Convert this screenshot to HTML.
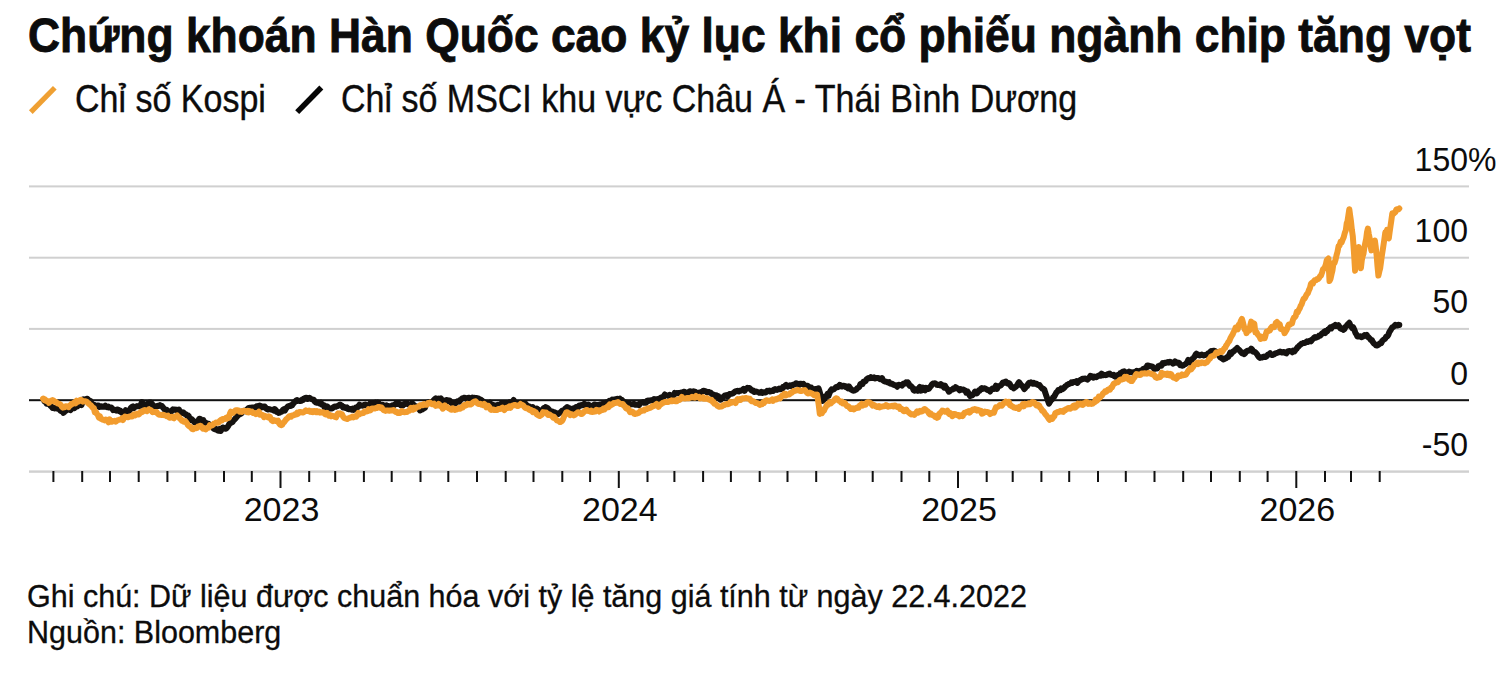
<!DOCTYPE html>
<html><head><meta charset="utf-8">
<style>
html,body{margin:0;padding:0;background:#fff;}
body{width:1512px;height:688px;position:relative;overflow:hidden;font-family:"Liberation Sans",sans-serif;color:#0c0c0c;}
.t{position:absolute;white-space:nowrap;line-height:1;transform-origin:0 0.8465em;}
#title{left:28px;top:15.3px;font-size:44.4px;font-weight:700;transform:scale(1.0,1.075);-webkit-text-stroke:0.8px #0c0c0c;}
.leg{top:82.8px;font-size:34px;transform:scaleY(1.12);-webkit-text-stroke:0.35px #0c0c0c;}
.yl{position:absolute;left:1268px;width:200px;font-size:32px;line-height:1;text-align:right;white-space:nowrap;transform-origin:0 0.8465em;transform:scaleY(1.04);}
.yl span{position:absolute;left:100%;top:0;}
.yr{position:absolute;top:492.2px;width:120px;text-align:center;font-size:34px;line-height:1;}
.fn{left:27px;font-size:30.5px;transform:scaleY(1.05);-webkit-text-stroke:0.3px #0c0c0c;}
svg{position:absolute;left:0;top:0;}
</style></head><body>
<div id="title" class="t">Chứng khoán Hàn Quốc cao kỷ lục khi cổ phiếu ngành chip tăng vọt</div>
<svg width="1512" height="688" viewBox="0 0 1512 688">
<line x1="30.8" y1="112.1" x2="54.8" y2="87.7" stroke="#EFA033" stroke-width="5.2"/>
<line x1="297.2" y1="112.1" x2="321.3" y2="87.5" stroke="#060606" stroke-width="5.6"/>
<rect x="29" y="185.4" width="1440" height="2" fill="#d0d0d0"/>
<rect x="29" y="256.7" width="1440" height="2" fill="#d0d0d0"/>
<rect x="29" y="327.9" width="1440" height="2" fill="#d0d0d0"/>
<rect x="29" y="470.4" width="1440" height="2.4" fill="#d0d0d0"/>

<rect x="29" y="399.2" width="1440" height="2" fill="#111"/>
<rect x="52.4" y="471" width="2" height="11" fill="#111"/>
<rect x="81.2" y="471" width="2" height="11" fill="#111"/>
<rect x="109.0" y="471" width="2" height="11" fill="#111"/>
<rect x="137.7" y="471" width="2" height="11" fill="#111"/>
<rect x="166.4" y="471" width="2" height="11" fill="#111"/>
<rect x="194.2" y="471" width="2" height="11" fill="#111"/>
<rect x="223.0" y="471" width="2" height="11" fill="#111"/>
<rect x="250.8" y="471" width="2" height="11" fill="#111"/>
<rect x="279.5" y="471" width="2" height="17" fill="#111"/>
<rect x="308.2" y="471" width="2" height="11" fill="#111"/>
<rect x="334.2" y="471" width="2" height="11" fill="#111"/>
<rect x="362.9" y="471" width="2" height="11" fill="#111"/>
<rect x="390.7" y="471" width="2" height="11" fill="#111"/>
<rect x="419.5" y="471" width="2" height="11" fill="#111"/>
<rect x="447.3" y="471" width="2" height="11" fill="#111"/>
<rect x="476.0" y="471" width="2" height="11" fill="#111"/>
<rect x="504.7" y="471" width="2" height="11" fill="#111"/>
<rect x="532.5" y="471" width="2" height="11" fill="#111"/>
<rect x="561.3" y="471" width="2" height="11" fill="#111"/>
<rect x="589.1" y="471" width="2" height="11" fill="#111"/>
<rect x="617.8" y="471" width="2" height="17" fill="#111"/>
<rect x="646.5" y="471" width="2" height="11" fill="#111"/>
<rect x="673.4" y="471" width="2" height="11" fill="#111"/>
<rect x="702.1" y="471" width="2" height="11" fill="#111"/>
<rect x="729.9" y="471" width="2" height="11" fill="#111"/>
<rect x="758.7" y="471" width="2" height="11" fill="#111"/>
<rect x="786.5" y="471" width="2" height="11" fill="#111"/>
<rect x="815.2" y="471" width="2" height="11" fill="#111"/>
<rect x="843.9" y="471" width="2" height="11" fill="#111"/>
<rect x="871.7" y="471" width="2" height="11" fill="#111"/>
<rect x="900.5" y="471" width="2" height="11" fill="#111"/>
<rect x="928.3" y="471" width="2" height="11" fill="#111"/>
<rect x="957.0" y="471" width="2" height="17" fill="#111"/>
<rect x="985.7" y="471" width="2" height="11" fill="#111"/>
<rect x="1011.7" y="471" width="2" height="11" fill="#111"/>
<rect x="1040.4" y="471" width="2" height="11" fill="#111"/>
<rect x="1068.2" y="471" width="2" height="11" fill="#111"/>
<rect x="1097.0" y="471" width="2" height="11" fill="#111"/>
<rect x="1124.8" y="471" width="2" height="11" fill="#111"/>
<rect x="1153.5" y="471" width="2" height="11" fill="#111"/>
<rect x="1182.2" y="471" width="2" height="11" fill="#111"/>
<rect x="1210.0" y="471" width="2" height="11" fill="#111"/>
<rect x="1238.8" y="471" width="2" height="11" fill="#111"/>
<rect x="1266.6" y="471" width="2" height="11" fill="#111"/>
<rect x="1295.3" y="471" width="2" height="17" fill="#111"/>
<rect x="1324.0" y="471" width="2" height="11" fill="#111"/>
<rect x="1350.0" y="471" width="2" height="11" fill="#111"/>
<rect x="1378.7" y="471" width="2" height="11" fill="#111"/>
<path d="M44.5,401.5 L45.5,401.8 L46.5,403.6 L47.6,402.3 L48.6,404.2 L49.6,404.4 L50.6,406.0 L51.6,406.6 L52.6,408.0 L53.5,407.7 L54.5,408.4 L55.5,408.3 L56.5,407.9 L57.5,408.8 L58.5,408.3 L59.5,409.3 L60.4,410.7 L61.4,411.1 L62.4,411.3 L63.4,412.8 L64.4,411.9 L65.4,410.8 L66.4,410.4 L67.4,409.4 L68.4,408.7 L69.4,408.0 L70.5,410.0 L71.5,408.5 L72.5,407.9 L73.5,407.7 L74.5,408.1 L75.5,406.6 L76.5,405.7 L77.5,406.4 L78.5,404.2 L79.5,403.4 L80.5,403.6 L81.5,405.0 L82.4,402.2 L83.4,399.4 L84.4,400.6 L85.4,399.7 L86.4,399.0 L87.4,398.8 L88.4,399.8 L89.4,400.8 L90.4,401.0 L91.4,403.3 L92.4,404.8 L93.4,404.6 L94.4,404.9 L95.4,406.2 L96.4,406.4 L97.4,405.6 L98.4,405.5 L99.4,407.0 L100.4,406.6 L101.3,406.2 L102.3,406.7 L103.3,406.7 L104.3,406.7 L105.3,405.7 L106.3,407.1 L107.3,407.2 L108.3,406.6 L109.3,407.6 L110.3,407.6 L111.3,407.5 L112.2,408.5 L113.2,410.1 L114.2,409.6 L115.2,410.1 L116.2,410.6 L117.2,409.5 L118.3,409.7 L119.4,411.3 L120.5,410.9 L121.6,412.6 L122.6,412.9 L123.7,412.9 L124.7,412.4 L125.7,410.2 L126.7,412.3 L127.8,411.4 L128.8,411.0 L129.8,410.3 L130.8,407.9 L131.9,406.9 L132.9,406.4 L133.9,408.1 L134.9,406.9 L136.0,406.6 L137.0,406.1 L138.0,406.3 L139.0,406.2 L140.0,405.9 L140.9,404.7 L141.9,402.1 L142.9,403.7 L143.9,404.6 L144.9,405.8 L145.9,404.9 L146.8,404.0 L147.8,404.0 L148.8,402.7 L149.8,402.5 L150.8,402.5 L151.8,403.5 L152.9,405.5 L153.9,405.9 L154.9,406.9 L155.9,406.5 L156.9,406.3 L157.9,405.8 L159.0,405.9 L160.0,405.1 L161.0,405.8 L162.0,406.0 L163.0,407.6 L163.9,408.6 L164.9,409.8 L165.9,411.0 L166.9,409.9 L167.8,410.7 L168.8,411.7 L169.8,411.4 L170.8,411.6 L171.9,410.9 L172.9,409.3 L173.9,409.9 L174.9,409.4 L176.0,409.9 L177.0,409.8 L178.0,410.6 L179.0,409.6 L179.9,412.3 L180.9,413.5 L181.9,412.7 L182.9,412.2 L183.8,412.9 L184.8,413.9 L185.8,414.3 L186.8,415.4 L187.7,415.2 L188.7,416.0 L189.7,418.9 L190.6,419.8 L191.6,419.2 L192.6,420.2 L193.5,421.1 L194.5,422.3 L195.5,422.5 L196.4,421.6 L197.4,422.0 L198.3,420.6 L199.3,418.8 L200.3,419.0 L201.4,421.4 L202.4,420.6 L203.4,420.2 L204.4,422.4 L205.5,422.7 L206.5,423.0 L207.5,424.4 L208.6,423.8 L209.6,425.3 L210.7,425.3 L211.7,425.2 L212.7,426.2 L213.8,428.8 L214.8,429.2 L215.9,428.8 L216.9,429.8 L217.9,430.6 L218.8,430.8 L219.8,429.0 L220.7,431.0 L221.7,429.3 L222.7,427.5 L223.6,427.7 L224.6,428.4 L225.5,428.8 L226.5,428.3 L227.5,426.9 L228.5,425.5 L229.5,423.5 L230.5,423.2 L231.4,422.2 L232.4,422.2 L233.4,420.5 L234.4,419.7 L235.4,418.5 L236.4,417.3 L237.4,416.1 L238.5,415.0 L239.5,413.6 L240.5,414.1 L241.5,413.2 L242.6,411.3 L243.6,411.0 L244.6,410.7 L245.7,411.2 L246.7,409.9 L247.7,408.9 L248.7,407.9 L249.8,407.8 L250.8,407.7 L251.8,407.6 L252.8,407.4 L253.8,407.8 L254.7,407.6 L255.7,407.5 L256.7,406.2 L257.7,406.6 L258.7,405.8 L259.7,405.5 L260.6,406.1 L261.6,407.4 L262.6,407.2 L263.6,406.5 L264.7,406.6 L265.7,407.7 L266.8,409.0 L267.9,409.4 L268.9,409.0 L270.0,409.4 L271.0,409.6 L271.9,409.8 L272.9,409.7 L273.8,410.5 L274.8,409.2 L275.8,410.0 L276.7,412.0 L277.7,412.0 L278.6,412.9 L279.6,412.6 L280.7,411.9 L281.7,411.8 L282.8,410.0 L283.9,409.2 L284.9,410.5 L286.0,408.6 L287.0,407.4 L288.0,406.4 L289.0,406.1 L290.0,405.6 L291.0,405.9 L292.0,405.4 L293.0,403.8 L294.0,402.8 L295.0,401.6 L296.1,400.5 L297.1,400.1 L298.1,400.9 L299.1,400.7 L300.2,401.0 L301.2,400.8 L302.2,399.5 L303.3,399.9 L304.3,398.4 L305.3,397.9 L306.4,397.7 L307.4,399.0 L308.4,398.5 L309.4,397.8 L310.5,398.6 L311.5,399.1 L312.6,399.4 L313.6,399.6 L314.7,401.5 L315.8,402.4 L316.8,402.8 L317.9,402.6 L318.9,403.1 L319.8,403.6 L320.8,402.7 L321.8,404.6 L322.8,404.9 L323.7,404.9 L324.7,407.7 L325.7,407.0 L326.6,406.3 L327.6,406.8 L328.6,407.8 L329.6,408.6 L330.5,408.6 L331.5,408.6 L332.6,408.0 L333.6,407.3 L334.7,406.4 L335.8,406.7 L336.8,406.2 L337.9,406.1 L338.9,405.2 L340.0,404.5 L341.0,405.2 L342.0,405.7 L342.9,407.3 L343.9,406.8 L344.9,407.8 L345.9,408.0 L346.9,407.4 L347.8,408.9 L348.8,409.3 L349.8,408.9 L350.8,409.3 L351.7,409.6 L352.7,408.6 L353.7,409.8 L354.7,409.2 L355.6,407.6 L356.6,408.1 L357.6,407.2 L358.6,405.9 L359.5,404.6 L360.5,405.8 L361.5,405.4 L362.5,405.7 L363.4,405.6 L364.4,404.9 L365.4,404.5 L366.4,405.4 L367.4,405.9 L368.5,405.4 L369.5,404.3 L370.5,403.0 L371.5,402.9 L372.5,404.7 L373.5,404.2 L374.6,403.5 L375.6,402.6 L376.6,403.0 L377.6,402.5 L378.6,403.0 L379.6,404.0 L380.6,405.3 L381.6,405.2 L382.6,404.8 L383.6,405.2 L384.6,406.5 L385.6,406.5 L386.6,405.4 L387.6,406.3 L388.6,406.0 L389.7,408.3 L390.7,406.4 L391.7,405.8 L392.7,405.3 L393.7,405.5 L394.7,404.7 L395.8,403.7 L396.8,403.2 L397.8,404.0 L398.8,404.0 L399.8,403.9 L400.8,405.4 L401.8,405.4 L402.9,405.5 L403.9,404.1 L404.9,404.1 L405.9,403.6 L406.9,403.4 L407.9,404.2 L409.0,404.4 L410.0,404.3 L411.0,404.0 L412.0,403.3 L413.0,404.0 L414.0,405.4 L415.0,406.1 L416.0,406.3 L417.0,408.0 L418.0,408.1 L419.0,408.8 L420.0,410.4 L421.0,409.5 L422.0,409.6 L423.0,408.8 L423.9,408.4 L424.9,407.9 L425.9,404.5 L426.9,404.2 L427.9,402.4 L428.9,402.3 L429.9,402.2 L430.9,402.8 L431.9,401.7 L432.8,401.8 L433.8,400.0 L434.8,399.2 L435.8,398.4 L436.8,399.0 L437.8,398.9 L438.8,398.6 L439.8,398.9 L440.8,398.3 L441.8,400.1 L442.8,400.8 L443.8,401.1 L444.8,401.1 L445.8,400.2 L446.7,400.1 L447.7,401.2 L448.7,400.5 L449.7,400.4 L450.7,402.3 L451.7,403.1 L452.7,402.7 L453.7,402.7 L454.7,402.7 L455.7,403.4 L456.6,402.0 L457.6,401.3 L458.5,401.1 L459.5,401.6 L460.4,399.8 L461.4,399.2 L462.3,398.3 L463.3,398.0 L464.3,397.7 L465.3,398.0 L466.4,398.9 L467.4,398.1 L468.4,397.7 L469.4,397.7 L470.4,398.3 L471.4,398.8 L472.5,397.6 L473.5,398.2 L474.5,397.7 L475.5,398.1 L476.5,398.1 L477.6,398.2 L478.6,398.6 L479.6,399.4 L480.6,399.4 L481.7,400.4 L482.7,401.2 L483.7,401.8 L484.8,402.5 L485.8,403.5 L486.8,402.8 L487.8,403.3 L488.9,403.7 L489.9,402.8 L490.9,404.3 L491.9,404.5 L493.0,404.9 L494.0,405.5 L495.0,405.5 L495.9,405.7 L496.9,405.6 L497.9,404.7 L498.9,405.1 L499.8,405.0 L500.8,403.9 L501.8,403.6 L502.8,404.1 L503.7,404.0 L504.7,403.9 L505.7,403.4 L506.7,403.8 L507.6,404.4 L508.6,403.6 L509.6,402.4 L510.6,403.6 L511.6,402.8 L512.6,401.6 L513.6,400.0 L514.5,402.0 L515.5,403.7 L516.5,404.0 L517.5,403.2 L518.5,403.9 L519.5,403.4 L520.5,402.8 L521.5,403.3 L522.5,403.8 L523.5,404.3 L524.6,404.9 L525.6,403.7 L526.6,406.2 L527.6,405.9 L528.6,407.0 L529.6,406.5 L530.7,407.6 L531.7,408.0 L532.7,407.1 L533.7,408.7 L534.7,409.7 L535.7,409.1 L536.8,408.5 L537.8,409.4 L538.8,409.9 L539.8,410.9 L540.8,410.3 L541.8,411.6 L542.8,409.9 L543.8,408.0 L544.8,408.4 L545.7,407.1 L546.7,407.7 L547.7,408.2 L548.7,409.3 L549.6,410.6 L550.6,411.3 L551.6,412.6 L552.6,411.6 L553.5,412.3 L554.5,412.3 L555.5,412.7 L556.5,413.4 L557.4,413.5 L558.4,414.0 L559.4,413.0 L560.4,412.7 L561.4,411.4 L562.3,410.6 L563.3,411.7 L564.3,409.9 L565.3,408.6 L566.3,407.8 L567.2,407.0 L568.2,407.6 L569.1,408.1 L570.1,408.4 L571.0,409.0 L572.0,409.1 L572.9,409.5 L573.9,408.3 L575.0,408.1 L576.0,407.1 L577.0,407.9 L578.1,407.3 L579.1,405.6 L580.1,405.8 L581.2,405.0 L582.2,405.3 L583.2,405.1 L584.2,403.9 L585.2,404.3 L586.2,405.2 L587.3,405.3 L588.3,404.5 L589.3,405.2 L590.3,405.5 L591.3,406.3 L592.3,406.0 L593.3,405.6 L594.3,404.5 L595.4,404.8 L596.4,404.9 L597.4,404.9 L598.4,405.1 L599.4,404.6 L600.4,404.6 L601.4,404.2 L602.4,404.0 L603.4,403.5 L604.3,402.9 L605.3,402.8 L606.3,403.1 L607.3,402.0 L608.3,402.0 L609.3,400.8 L610.3,401.1 L611.2,400.8 L612.2,399.6 L613.2,400.4 L614.2,399.4 L615.2,399.3 L616.2,399.1 L617.1,398.8 L618.1,400.4 L619.1,399.7 L620.0,398.8 L621.0,400.2 L621.9,399.9 L622.9,401.0 L623.9,402.7 L624.8,402.2 L625.8,402.5 L626.8,402.9 L627.8,403.2 L628.9,403.1 L629.9,404.6 L630.9,404.0 L631.9,404.3 L633.0,404.3 L634.0,403.9 L635.0,404.8 L636.0,404.6 L637.0,404.8 L638.0,404.8 L639.0,405.2 L640.0,403.1 L641.0,402.8 L642.0,402.6 L643.0,402.1 L644.0,402.8 L645.0,402.7 L646.0,402.8 L647.0,400.9 L647.9,400.6 L648.9,401.0 L649.9,400.7 L650.9,400.2 L651.9,400.2 L652.9,399.9 L653.9,399.1 L654.9,400.2 L655.9,399.2 L656.9,399.2 L657.9,399.1 L658.9,399.1 L659.9,398.4 L660.9,397.6 L661.9,398.0 L662.9,397.9 L663.9,396.0 L664.8,394.5 L665.8,395.2 L666.8,395.4 L667.8,395.4 L668.8,396.1 L669.8,394.9 L670.8,397.4 L671.8,396.5 L672.8,396.1 L673.8,395.0 L674.7,392.9 L675.7,393.4 L676.7,393.0 L677.7,393.3 L678.7,393.0 L679.7,393.4 L680.6,392.6 L681.6,392.4 L682.6,392.4 L683.6,391.8 L684.5,391.7 L685.5,392.6 L686.5,394.2 L687.5,392.8 L688.4,393.0 L689.4,391.5 L690.4,391.3 L691.4,391.6 L692.3,391.8 L693.3,391.2 L694.3,391.7 L695.3,391.8 L696.3,392.6 L697.3,392.9 L698.4,392.9 L699.4,392.4 L700.4,392.6 L701.4,391.8 L702.4,391.5 L703.4,390.7 L704.4,390.9 L705.4,391.1 L706.5,392.0 L707.5,392.5 L708.5,391.9 L709.5,392.3 L710.5,392.6 L711.5,393.7 L712.5,394.2 L713.5,394.8 L714.5,395.0 L715.5,396.6 L716.6,395.4 L717.6,397.0 L718.6,396.5 L719.6,399.0 L720.6,399.7 L721.6,398.1 L722.6,397.7 L723.6,396.7 L724.7,395.6 L725.7,395.7 L726.7,395.1 L727.7,396.4 L728.7,395.2 L729.7,394.0 L730.8,393.9 L731.8,393.7 L732.8,393.4 L733.8,392.8 L734.8,391.7 L735.7,391.3 L736.7,391.2 L737.7,390.7 L738.7,391.4 L739.6,390.8 L740.6,390.7 L741.6,390.3 L742.6,390.3 L743.5,388.9 L744.5,390.8 L745.5,389.5 L746.5,388.7 L747.4,387.8 L748.4,388.1 L749.4,388.0 L750.4,388.9 L751.4,390.3 L752.4,390.9 L753.4,390.5 L754.3,392.0 L755.3,391.6 L756.3,391.6 L757.3,391.9 L758.3,392.1 L759.3,392.8 L760.3,392.7 L761.3,391.9 L762.3,393.0 L763.3,392.4 L764.2,392.2 L765.2,392.5 L766.2,392.0 L767.2,390.8 L768.2,391.1 L769.2,390.6 L770.2,391.5 L771.2,390.8 L772.1,390.5 L773.1,391.0 L774.1,389.6 L775.1,389.0 L776.1,389.6 L777.1,389.9 L778.1,389.4 L779.1,388.6 L780.1,389.3 L781.1,389.0 L782.1,389.0 L783.1,386.7 L784.1,386.8 L785.1,385.8 L786.0,385.0 L787.0,386.2 L788.0,386.6 L789.0,385.7 L790.0,385.3 L791.0,386.1 L792.0,385.7 L793.0,384.7 L794.0,384.6 L795.0,384.2 L796.0,383.3 L797.0,383.4 L798.0,384.1 L799.1,384.9 L800.1,383.7 L801.1,383.7 L802.1,384.1 L803.2,383.7 L804.2,385.2 L805.2,385.4 L806.2,386.9 L807.2,385.7 L808.2,386.0 L809.2,389.0 L810.2,387.6 L811.2,387.5 L812.2,389.2 L813.2,390.8 L814.3,390.6 L815.3,388.9 L816.4,389.1 L817.4,388.8 L818.5,388.3 L819.5,391.3 L820.5,394.8 L821.4,398.1 L822.4,400.9 L823.4,400.0 L824.4,398.5 L825.5,396.2 L826.5,396.1 L827.5,393.9 L828.5,395.8 L829.6,393.0 L830.6,390.8 L831.6,389.4 L832.6,389.8 L833.7,389.3 L834.7,388.5 L835.7,387.4 L836.7,386.8 L837.7,387.3 L838.8,386.3 L839.8,384.8 L840.8,386.4 L841.8,386.6 L842.9,385.7 L843.9,385.7 L844.9,386.1 L845.9,387.1 L847.0,386.6 L848.0,388.3 L849.0,386.4 L850.1,388.1 L851.1,389.5 L852.1,390.0 L853.2,390.7 L854.2,390.6 L855.2,390.1 L856.3,389.6 L857.3,388.1 L858.3,387.6 L859.4,386.7 L860.4,384.0 L861.5,383.6 L862.5,384.0 L863.5,381.7 L864.6,381.5 L865.6,381.0 L866.6,379.2 L867.7,378.5 L868.7,378.0 L869.7,378.2 L870.8,377.2 L871.8,378.0 L872.8,377.9 L873.9,377.4 L874.9,378.4 L875.9,378.3 L877.0,377.9 L878.0,378.0 L879.0,378.4 L880.0,379.2 L881.0,379.1 L882.0,378.1 L883.1,380.3 L884.1,381.1 L885.1,381.6 L886.1,381.7 L887.1,382.0 L888.1,382.5 L889.1,382.1 L890.1,383.6 L891.2,383.8 L892.2,383.7 L893.2,384.6 L894.2,384.9 L895.2,385.5 L896.2,385.5 L897.2,386.7 L898.1,384.9 L899.1,384.8 L900.1,385.1 L901.1,384.8 L902.0,385.6 L903.0,384.0 L904.0,383.5 L905.0,383.4 L905.9,382.5 L906.9,383.4 L907.9,382.5 L908.9,384.0 L909.8,386.0 L910.8,385.9 L911.7,386.8 L912.7,387.9 L913.6,390.3 L914.6,390.7 L915.6,389.5 L916.7,390.4 L917.7,390.8 L918.7,388.7 L919.8,387.0 L920.8,390.7 L921.9,390.2 L922.9,387.6 L923.9,389.4 L925.0,390.3 L926.0,387.8 L927.0,388.9 L928.1,389.0 L929.1,388.6 L930.1,386.9 L931.0,386.1 L932.0,384.3 L933.0,383.5 L934.0,383.4 L935.0,383.3 L936.0,384.0 L937.0,384.8 L938.0,385.0 L939.0,384.7 L940.0,385.4 L941.0,384.2 L942.0,385.1 L943.0,385.9 L944.0,387.6 L945.0,385.7 L945.9,387.3 L946.9,388.6 L947.9,389.9 L948.9,391.7 L949.9,391.0 L950.8,390.1 L951.8,389.6 L952.7,389.5 L953.7,388.2 L954.6,388.6 L955.6,387.2 L956.6,388.0 L957.6,388.4 L958.6,389.1 L959.5,390.3 L960.5,389.1 L961.5,389.5 L962.5,389.7 L963.5,389.6 L964.4,390.1 L965.4,390.6 L966.3,392.7 L967.3,391.3 L968.2,392.5 L969.2,394.5 L970.1,396.2 L971.1,395.4 L972.0,395.4 L973.0,394.5 L974.0,393.3 L975.0,391.6 L975.9,392.0 L976.9,393.4 L977.9,392.2 L978.9,390.3 L979.8,390.6 L980.8,388.9 L981.8,388.1 L982.8,388.9 L983.7,388.4 L984.7,388.2 L985.8,388.9 L986.8,389.5 L987.9,390.1 L988.9,390.3 L990.0,391.5 L991.0,390.1 L992.0,388.8 L993.0,388.4 L994.0,389.0 L994.9,388.0 L995.9,385.7 L996.9,389.0 L997.9,386.7 L998.9,385.9 L999.9,385.8 L1000.9,385.3 L1001.8,384.3 L1002.8,382.6 L1003.8,383.0 L1004.8,382.0 L1005.8,381.6 L1006.8,383.0 L1007.8,383.6 L1008.8,383.1 L1009.8,383.9 L1010.8,386.1 L1011.8,387.3 L1012.8,387.1 L1013.8,388.3 L1014.8,387.3 L1015.9,386.8 L1016.9,385.4 L1018.0,383.7 L1019.0,382.2 L1020.1,383.6 L1021.1,385.2 L1022.2,385.9 L1023.2,387.0 L1024.3,389.0 L1025.3,387.9 L1026.2,386.2 L1027.2,386.0 L1028.1,383.9 L1029.1,382.9 L1030.0,383.3 L1031.0,382.4 L1031.9,383.1 L1032.8,383.7 L1033.8,382.9 L1034.7,383.7 L1035.6,383.4 L1036.5,383.8 L1037.5,384.7 L1038.5,385.3 L1039.5,385.1 L1040.5,386.7 L1041.4,387.6 L1042.4,388.7 L1043.4,388.7 L1044.4,389.8 L1045.3,392.8 L1046.2,395.4 L1047.2,398.3 L1048.1,401.2 L1049.0,403.6 L1050.0,401.8 L1051.1,400.1 L1052.1,399.3 L1053.1,397.4 L1054.1,396.8 L1055.2,394.8 L1056.2,392.7 L1057.2,391.9 L1058.2,390.1 L1059.2,390.0 L1060.2,390.3 L1061.2,388.4 L1062.2,389.3 L1063.3,388.7 L1064.3,387.7 L1065.3,386.3 L1066.3,385.7 L1067.3,384.7 L1068.3,384.3 L1069.3,383.8 L1070.3,383.5 L1071.3,382.4 L1072.3,382.9 L1073.3,381.9 L1074.3,382.0 L1075.3,382.0 L1076.4,381.2 L1077.4,382.9 L1078.4,381.3 L1079.4,380.8 L1080.4,379.9 L1081.4,379.6 L1082.4,378.7 L1083.4,379.0 L1084.4,378.7 L1085.4,378.5 L1086.4,379.1 L1087.4,379.6 L1088.4,378.6 L1089.4,377.4 L1090.4,375.9 L1091.4,376.2 L1092.4,377.2 L1093.4,377.6 L1094.4,376.6 L1095.4,376.8 L1096.4,377.2 L1097.5,376.3 L1098.5,375.8 L1099.5,375.1 L1100.6,375.7 L1101.6,373.6 L1102.6,374.4 L1103.7,375.2 L1104.7,374.9 L1105.7,375.2 L1106.8,374.9 L1107.8,374.1 L1108.8,373.8 L1109.7,373.6 L1110.7,374.6 L1111.7,374.9 L1112.6,375.2 L1113.6,374.8 L1114.6,376.3 L1115.5,376.7 L1116.5,376.8 L1117.5,375.2 L1118.4,376.5 L1119.4,375.7 L1120.4,372.9 L1121.3,373.0 L1122.3,372.0 L1123.2,371.6 L1124.2,371.3 L1125.1,372.2 L1126.1,372.6 L1127.0,372.7 L1128.0,372.3 L1129.0,371.6 L1129.9,372.2 L1130.8,372.2 L1131.8,372.3 L1132.8,372.4 L1133.9,373.1 L1135.0,371.8 L1136.0,372.3 L1137.0,370.9 L1138.1,371.6 L1139.1,371.4 L1140.2,370.8 L1141.2,370.6 L1142.3,370.1 L1143.3,368.9 L1144.3,368.7 L1145.2,368.1 L1146.2,368.1 L1147.2,365.5 L1148.2,365.5 L1149.2,365.9 L1150.2,366.3 L1151.2,366.2 L1152.3,366.6 L1153.3,367.5 L1154.3,368.9 L1155.3,368.7 L1156.3,368.6 L1157.3,368.3 L1158.4,366.1 L1159.5,365.7 L1160.5,365.2 L1161.5,365.6 L1162.6,363.2 L1163.6,363.6 L1164.7,362.7 L1165.8,363.0 L1166.8,362.4 L1167.8,362.1 L1168.9,362.6 L1169.9,361.7 L1171.0,362.3 L1172.0,362.7 L1173.0,363.7 L1174.1,362.8 L1175.1,361.4 L1176.2,362.7 L1177.2,362.4 L1178.2,362.6 L1179.2,363.0 L1180.2,365.2 L1181.2,364.9 L1182.2,365.8 L1183.2,365.4 L1184.2,364.8 L1185.2,364.2 L1186.2,363.5 L1187.3,362.0 L1188.3,359.9 L1189.3,362.2 L1190.3,362.7 L1191.4,360.3 L1192.4,358.8 L1193.4,358.0 L1194.5,356.8 L1195.5,354.7 L1196.5,353.7 L1197.5,354.3 L1198.6,355.1 L1199.6,355.4 L1200.6,355.3 L1201.7,354.6 L1202.7,355.0 L1203.7,355.4 L1204.8,355.0 L1205.8,355.1 L1206.8,355.0 L1207.9,353.6 L1208.9,353.9 L1209.9,352.2 L1211.0,351.2 L1212.0,352.7 L1213.0,350.8 L1214.1,350.8 L1215.1,350.9 L1216.1,352.3 L1217.1,353.1 L1218.2,353.6 L1219.2,355.8 L1220.2,357.2 L1221.2,357.9 L1222.3,358.4 L1223.3,359.4 L1224.3,359.0 L1225.3,358.3 L1226.3,358.2 L1227.3,357.0 L1228.3,357.0 L1229.3,354.9 L1230.2,352.7 L1231.2,353.9 L1232.2,352.7 L1233.2,351.5 L1234.2,351.0 L1235.2,349.7 L1236.2,349.1 L1237.2,348.0 L1238.2,349.3 L1239.2,350.0 L1240.2,351.2 L1241.2,352.3 L1242.2,353.3 L1243.2,352.8 L1244.2,354.1 L1245.2,353.2 L1246.2,351.6 L1247.2,350.8 L1248.2,350.8 L1249.2,350.4 L1250.2,350.4 L1251.2,348.6 L1252.2,349.6 L1253.2,351.8 L1254.1,351.7 L1255.1,352.0 L1256.1,353.0 L1257.1,354.3 L1258.0,355.9 L1259.0,357.2 L1260.0,358.0 L1261.0,357.4 L1262.0,357.5 L1263.0,356.8 L1264.0,356.5 L1265.1,357.0 L1266.1,356.8 L1267.1,355.7 L1268.1,354.5 L1269.1,354.2 L1270.1,353.3 L1271.1,354.6 L1272.1,355.1 L1273.1,354.7 L1274.1,354.4 L1275.2,353.4 L1276.2,353.2 L1277.2,352.8 L1278.2,352.5 L1279.2,352.0 L1280.2,351.6 L1281.2,352.2 L1282.2,352.6 L1283.2,351.9 L1284.2,352.3 L1285.2,352.8 L1286.3,353.4 L1287.3,351.7 L1288.3,351.2 L1289.3,351.1 L1290.3,351.2 L1291.3,351.4 L1292.3,352.2 L1293.3,350.7 L1294.4,351.4 L1295.4,350.0 L1296.4,349.0 L1297.5,347.3 L1298.5,346.6 L1299.5,345.4 L1300.6,344.6 L1301.6,343.6 L1302.7,343.3 L1303.7,342.9 L1304.8,343.1 L1305.9,342.1 L1306.9,341.4 L1308.0,342.0 L1309.0,341.0 L1310.0,340.7 L1311.0,341.4 L1312.1,339.7 L1313.1,338.9 L1314.1,337.7 L1315.1,337.0 L1316.1,337.7 L1317.2,337.1 L1318.2,336.9 L1319.2,335.4 L1320.2,335.6 L1321.2,334.6 L1322.2,333.2 L1323.2,332.8 L1324.2,331.7 L1325.2,333.1 L1326.2,330.8 L1327.2,331.2 L1328.3,329.6 L1329.3,328.7 L1330.3,327.5 L1331.3,328.4 L1332.3,326.9 L1333.3,326.1 L1334.3,325.8 L1335.3,324.9 L1336.3,325.9 L1337.3,325.8 L1338.4,325.2 L1339.4,326.8 L1340.4,328.5 L1341.5,328.9 L1342.5,328.6 L1343.5,329.8 L1344.5,328.9 L1345.4,326.9 L1346.4,326.0 L1347.4,324.8 L1348.3,323.8 L1349.3,322.8 L1350.3,325.0 L1351.3,326.6 L1352.3,328.2 L1353.3,327.5 L1354.4,329.9 L1355.4,332.8 L1356.4,334.3 L1357.4,336.5 L1358.4,336.4 L1359.5,336.4 L1360.5,336.3 L1361.5,337.2 L1362.6,336.8 L1363.6,336.1 L1364.6,335.0 L1365.7,335.5 L1366.7,334.9 L1367.7,336.9 L1368.8,337.5 L1369.8,338.5 L1370.8,339.8 L1371.9,340.1 L1372.9,342.2 L1373.9,343.5 L1375.0,344.2 L1376.0,345.4 L1377.0,345.6 L1378.1,345.1 L1379.1,344.2 L1380.1,343.2 L1381.2,343.3 L1382.2,341.1 L1383.2,340.0 L1384.3,339.3 L1385.3,338.3 L1386.3,336.4 L1387.3,336.4 L1388.3,334.8 L1389.3,332.2 L1390.3,330.7 L1391.3,328.9 L1392.3,327.2 L1393.3,327.1 L1394.3,326.0 L1395.3,324.8 L1396.3,325.5 L1397.3,325.5 L1398.3,324.8 L1399.3,324.9" fill="none" stroke="#151210" stroke-width="6.0" stroke-linejoin="round" stroke-linecap="round"/>
<path d="M43.1,398.7 L44.1,400.0 L45.0,399.4 L46.0,401.0 L47.0,400.8 L47.9,401.3 L48.9,402.8 L49.8,401.9 L50.7,400.9 L51.6,400.5 L52.5,400.0 L53.5,400.6 L54.5,401.7 L55.6,401.7 L56.6,402.6 L57.6,403.4 L58.6,403.4 L59.6,404.1 L60.7,404.8 L61.7,406.5 L62.7,407.6 L63.7,407.3 L64.7,407.3 L65.7,406.2 L66.7,406.4 L67.7,406.7 L68.6,407.2 L69.6,405.6 L70.6,405.2 L71.6,403.8 L72.6,404.0 L73.6,403.1 L74.6,402.2 L75.7,403.2 L76.7,400.7 L77.8,401.8 L78.8,401.3 L79.9,400.3 L80.9,399.8 L81.9,400.5 L82.8,401.6 L83.8,401.3 L84.8,401.2 L85.7,401.5 L86.7,401.7 L87.7,403.0 L88.6,403.2 L89.6,404.5 L90.6,405.1 L91.7,406.3 L92.7,407.6 L93.8,408.0 L94.8,412.3 L95.9,411.9 L96.9,414.0 L97.9,415.0 L98.8,417.6 L99.8,416.2 L100.8,418.7 L101.7,418.9 L102.7,419.8 L103.7,419.7 L104.7,420.4 L105.7,419.6 L106.7,420.0 L107.7,420.6 L108.6,422.4 L109.6,419.4 L110.6,421.3 L111.6,421.7 L112.6,421.0 L113.6,421.3 L114.6,420.7 L115.7,421.6 L116.7,420.8 L117.7,420.1 L118.8,419.9 L119.8,419.6 L120.9,419.4 L121.9,418.5 L122.9,420.0 L124.0,418.0 L125.0,416.6 L126.0,417.0 L127.0,417.0 L128.0,417.3 L129.0,416.8 L130.0,416.4 L131.0,416.5 L132.0,416.5 L133.0,415.0 L134.0,414.4 L135.0,415.4 L136.0,414.8 L137.0,413.7 L138.0,414.6 L139.0,414.3 L140.0,413.1 L140.9,411.8 L141.9,412.3 L142.9,411.4 L143.9,410.5 L144.9,410.0 L145.9,410.3 L146.8,411.2 L147.8,410.3 L148.8,409.3 L149.8,409.7 L150.8,410.2 L151.8,411.2 L152.7,412.2 L153.7,411.9 L154.7,411.9 L155.7,412.3 L156.6,412.1 L157.6,413.5 L158.6,414.6 L159.6,414.8 L160.7,414.8 L161.7,415.0 L162.7,414.9 L163.7,414.8 L164.8,415.4 L165.8,415.6 L166.8,416.3 L167.9,415.7 L168.9,417.2 L169.9,417.7 L170.9,417.3 L172.0,416.8 L173.0,417.8 L174.0,418.3 L175.0,416.9 L176.0,416.0 L177.0,415.4 L178.0,416.7 L179.0,417.0 L180.0,418.7 L181.0,419.2 L182.0,420.8 L183.0,421.2 L184.0,421.7 L185.0,421.1 L186.0,422.0 L187.0,423.4 L188.0,425.2 L189.0,426.2 L190.0,426.4 L191.0,427.7 L192.0,428.9 L193.0,429.3 L194.0,428.5 L195.0,427.9 L196.0,428.3 L197.1,427.9 L198.1,426.4 L199.1,426.5 L200.1,425.8 L201.0,425.9 L202.0,427.6 L202.9,428.7 L203.8,428.1 L204.8,428.7 L205.7,429.4 L206.7,428.3 L207.8,427.6 L208.8,427.7 L209.8,425.2 L210.8,425.6 L211.9,425.5 L212.9,424.8 L213.9,423.5 L214.9,423.5 L215.9,422.5 L216.9,422.7 L217.9,422.7 L218.9,422.2 L219.9,420.8 L220.9,419.9 L221.9,420.4 L222.9,419.0 L223.9,419.1 L224.9,419.0 L225.9,417.9 L226.9,418.6 L227.9,417.1 L228.9,417.7 L229.9,413.8 L230.8,411.7 L231.8,413.2 L232.8,412.9 L233.8,411.8 L234.8,411.0 L235.8,410.2 L236.8,410.4 L237.8,410.2 L238.8,410.6 L239.8,411.8 L240.8,411.7 L241.8,412.0 L242.8,410.9 L243.8,410.7 L244.8,411.0 L245.8,410.9 L246.8,412.0 L247.8,411.0 L248.8,412.3 L249.8,411.2 L250.8,411.8 L251.8,411.6 L252.8,412.9 L253.8,413.0 L254.9,413.3 L255.9,414.1 L256.9,413.5 L257.9,412.8 L258.9,411.8 L259.9,414.7 L260.9,414.5 L261.9,414.7 L263.0,415.5 L264.0,417.1 L265.0,415.9 L266.0,416.4 L267.0,416.6 L268.0,417.4 L268.9,416.3 L269.9,416.9 L270.9,419.0 L271.9,420.5 L272.8,421.2 L273.8,420.1 L274.8,420.5 L275.9,421.1 L276.9,420.8 L278.0,420.6 L279.1,423.4 L280.1,424.6 L281.2,425.2 L282.2,424.8 L283.2,422.7 L284.2,422.1 L285.2,420.6 L286.2,419.3 L287.2,418.6 L288.2,417.4 L289.2,416.4 L290.2,416.0 L291.2,416.6 L292.1,415.4 L293.1,415.5 L294.1,415.2 L295.1,414.2 L296.1,414.4 L297.1,412.7 L298.0,413.8 L299.0,412.3 L300.0,411.9 L301.0,412.2 L302.0,412.5 L303.0,412.5 L303.9,412.1 L304.9,411.2 L305.9,410.4 L306.9,410.9 L307.9,411.1 L308.9,410.6 L309.9,411.7 L310.9,411.9 L311.9,411.1 L312.9,412.1 L313.9,410.9 L314.9,410.9 L315.9,412.1 L316.9,411.2 L317.9,412.1 L318.9,411.5 L319.9,412.6 L320.9,412.3 L321.9,412.6 L322.9,412.2 L323.9,412.7 L325.0,414.0 L326.0,414.5 L327.0,412.9 L328.0,414.8 L329.0,415.7 L330.0,415.1 L331.1,416.3 L332.1,415.7 L333.1,416.2 L334.1,416.5 L335.1,416.9 L336.1,417.3 L337.0,414.9 L338.0,413.4 L339.0,414.1 L340.0,413.3 L341.0,414.2 L342.1,414.3 L343.1,416.7 L344.1,417.9 L345.1,418.3 L346.2,418.6 L347.2,419.0 L348.2,418.3 L349.2,418.0 L350.2,417.6 L351.3,417.3 L352.3,416.6 L353.3,417.4 L354.3,416.6 L355.3,416.8 L356.3,416.7 L357.3,414.7 L358.3,412.9 L359.4,414.4 L360.4,413.6 L361.4,413.4 L362.4,413.1 L363.4,413.1 L364.4,411.6 L365.4,411.7 L366.5,411.4 L367.5,411.3 L368.5,409.2 L369.5,410.5 L370.5,410.3 L371.5,408.6 L372.5,408.4 L373.5,408.5 L374.6,408.6 L375.6,408.0 L376.6,408.1 L377.6,407.3 L378.6,406.9 L379.6,406.9 L380.6,407.9 L381.6,407.6 L382.6,408.9 L383.6,410.1 L384.5,410.4 L385.5,410.9 L386.5,410.4 L387.5,410.6 L388.5,410.6 L389.5,410.8 L390.5,410.4 L391.6,410.6 L392.6,410.5 L393.6,410.0 L394.7,411.1 L395.7,412.0 L396.8,411.7 L397.8,413.1 L398.8,413.1 L399.9,413.1 L400.9,411.9 L401.9,411.0 L403.0,411.9 L404.0,412.2 L405.0,412.2 L406.0,411.9 L407.0,412.0 L408.0,411.1 L409.0,410.9 L410.0,409.6 L411.0,407.8 L412.0,408.1 L413.0,409.7 L414.0,407.6 L415.0,408.9 L415.9,407.7 L416.9,407.1 L417.9,406.9 L418.9,406.6 L419.9,405.3 L420.9,405.1 L421.9,405.2 L422.9,405.2 L423.9,404.1 L424.9,404.7 L425.9,404.8 L426.9,404.8 L427.9,403.0 L428.9,403.3 L429.9,402.5 L430.9,403.4 L431.9,404.2 L432.9,403.8 L433.9,403.6 L434.8,404.8 L435.8,405.8 L436.8,405.2 L437.8,405.5 L438.8,404.0 L439.8,404.9 L440.8,406.2 L441.8,406.9 L442.8,408.7 L443.8,406.9 L444.8,405.3 L445.8,406.8 L446.8,406.8 L447.8,407.6 L448.8,408.3 L449.7,408.7 L450.7,409.5 L451.7,409.7 L452.7,408.3 L453.7,408.7 L454.7,409.9 L455.7,409.5 L456.7,409.4 L457.7,408.8 L458.7,408.1 L459.7,408.7 L460.6,408.5 L461.6,407.4 L462.6,407.6 L463.6,405.6 L464.6,404.8 L465.6,405.6 L466.6,405.1 L467.6,403.8 L468.6,404.4 L469.6,404.3 L470.6,404.6 L471.5,404.0 L472.5,402.8 L473.5,402.0 L474.5,401.6 L475.5,401.2 L476.5,402.3 L477.5,403.3 L478.5,404.0 L479.5,404.1 L480.4,403.8 L481.4,404.7 L482.4,404.5 L483.4,405.2 L484.4,404.0 L485.4,404.8 L486.4,407.3 L487.4,406.3 L488.4,405.9 L489.4,407.1 L490.4,409.2 L491.3,410.0 L492.3,409.4 L493.3,409.5 L494.3,410.0 L495.3,410.0 L496.3,410.1 L497.3,409.8 L498.3,408.9 L499.3,408.9 L500.3,408.9 L501.3,408.3 L502.4,407.7 L503.4,408.8 L504.4,410.0 L505.4,408.6 L506.4,407.7 L507.4,408.1 L508.4,407.4 L509.4,406.4 L510.4,407.8 L511.4,406.2 L512.4,405.6 L513.4,405.3 L514.5,405.0 L515.5,405.1 L516.5,405.6 L517.5,406.1 L518.5,405.7 L519.5,405.0 L520.5,404.0 L521.5,404.8 L522.5,404.9 L523.5,405.8 L524.6,407.3 L525.6,408.0 L526.6,408.2 L527.6,408.2 L528.6,409.2 L529.6,410.1 L530.7,409.7 L531.7,410.4 L532.7,412.1 L533.7,411.1 L534.7,412.0 L535.7,412.2 L536.8,414.4 L537.8,415.0 L538.8,415.5 L539.8,416.0 L540.9,415.3 L541.9,414.6 L543.0,412.2 L544.0,412.6 L545.1,412.4 L546.1,412.4 L547.1,413.8 L548.1,414.9 L549.1,414.3 L550.1,414.9 L551.1,415.6 L552.1,416.1 L553.0,417.5 L554.0,416.9 L555.0,418.2 L556.0,419.3 L557.0,420.4 L558.0,420.8 L559.0,421.1 L560.0,422.1 L561.0,421.8 L562.1,420.9 L563.1,419.0 L564.2,416.2 L565.2,414.7 L566.3,412.4 L567.2,412.2 L568.2,413.0 L569.1,413.3 L570.1,415.1 L571.0,414.5 L572.0,414.3 L572.9,414.6 L573.9,415.4 L574.9,414.9 L575.9,413.9 L577.0,413.0 L578.0,412.2 L579.0,412.4 L580.0,413.0 L581.0,413.9 L582.0,413.9 L583.1,413.0 L584.1,411.7 L585.1,411.0 L586.1,410.0 L587.1,410.0 L588.1,410.9 L589.2,410.9 L590.2,411.6 L591.2,410.6 L592.2,412.1 L593.3,411.9 L594.3,411.5 L595.3,411.6 L596.3,409.8 L597.4,410.3 L598.4,410.3 L599.4,411.5 L600.4,410.7 L601.5,409.9 L602.5,410.0 L603.5,408.6 L604.5,409.4 L605.6,407.9 L606.6,407.5 L607.6,406.3 L608.6,407.1 L609.7,404.4 L610.7,405.4 L611.7,404.4 L612.8,404.2 L613.8,403.0 L614.8,403.1 L615.8,402.8 L616.9,402.6 L617.9,402.0 L618.9,402.9 L619.9,403.9 L620.9,404.0 L621.9,403.9 L622.9,404.0 L623.9,405.8 L624.9,406.2 L625.9,408.3 L627.0,408.8 L628.0,408.4 L629.0,410.2 L630.0,412.1 L631.0,411.7 L632.0,411.5 L633.0,412.1 L634.0,413.6 L635.0,414.0 L636.0,413.5 L636.9,413.6 L637.9,413.1 L638.9,412.7 L639.9,411.7 L640.8,410.8 L641.8,410.9 L642.8,410.6 L643.8,410.6 L644.7,409.4 L645.7,409.3 L646.7,409.1 L647.7,408.5 L648.6,408.2 L649.6,408.0 L650.6,407.6 L651.6,407.1 L652.6,405.9 L653.6,406.0 L654.6,405.5 L655.6,404.9 L656.6,404.0 L657.5,404.8 L658.5,406.8 L659.5,405.5 L660.5,404.4 L661.5,404.0 L662.5,403.0 L663.5,402.8 L664.5,402.2 L665.5,401.9 L666.5,402.1 L667.5,402.1 L668.6,401.8 L669.6,401.1 L670.6,401.3 L671.6,400.4 L672.6,401.2 L673.7,400.6 L674.7,400.6 L675.7,401.3 L676.7,401.3 L677.7,399.5 L678.8,399.4 L679.8,399.9 L680.8,398.7 L681.8,396.9 L682.8,398.0 L683.8,398.4 L684.9,398.6 L685.9,398.4 L686.9,398.1 L687.9,398.0 L688.9,398.2 L690.0,397.8 L691.0,397.5 L692.0,396.9 L693.0,397.5 L694.0,397.2 L695.0,397.6 L696.0,396.0 L696.9,396.9 L697.9,397.1 L698.9,396.8 L699.9,398.4 L700.9,398.3 L701.9,397.8 L702.9,397.2 L703.8,398.8 L704.8,398.7 L705.8,398.7 L706.8,398.0 L707.8,398.8 L708.8,399.5 L709.7,399.8 L710.7,400.4 L711.6,399.9 L712.6,401.9 L713.5,401.7 L714.5,403.9 L715.5,404.1 L716.4,404.5 L717.4,405.8 L718.3,406.5 L719.3,406.7 L720.3,406.5 L721.3,406.6 L722.3,406.1 L723.4,405.0 L724.4,405.0 L725.4,404.3 L726.4,404.0 L727.4,404.2 L728.4,404.0 L729.5,403.5 L730.5,401.8 L731.5,402.7 L732.5,402.3 L733.5,401.7 L734.5,401.7 L735.5,403.1 L736.6,400.8 L737.6,399.2 L738.6,400.1 L739.6,399.2 L740.6,399.9 L741.6,398.6 L742.7,398.3 L743.7,398.6 L744.7,398.4 L745.7,397.9 L746.7,398.3 L747.7,398.5 L748.7,398.6 L749.8,398.8 L750.8,400.5 L751.8,401.2 L752.8,401.1 L753.8,401.5 L754.8,402.3 L755.9,403.1 L756.9,403.0 L757.9,403.3 L758.9,404.1 L759.9,404.9 L760.9,404.1 L761.9,404.3 L762.9,402.4 L764.0,402.9 L765.0,401.2 L766.0,400.5 L767.0,400.3 L768.0,400.6 L769.0,400.9 L770.0,400.8 L771.0,400.4 L772.1,399.5 L773.1,400.8 L774.1,399.7 L775.1,399.3 L776.1,399.5 L777.1,399.0 L778.1,398.4 L779.2,397.8 L780.2,398.3 L781.2,396.5 L782.2,395.4 L783.3,395.6 L784.3,393.8 L785.3,393.7 L786.3,395.3 L787.4,394.6 L788.4,394.5 L789.4,394.6 L790.4,392.9 L791.4,393.0 L792.5,392.0 L793.5,391.0 L794.5,390.9 L795.5,390.8 L796.6,390.4 L797.6,389.8 L798.6,390.1 L799.6,390.8 L800.7,391.0 L801.7,390.9 L802.7,390.3 L803.7,390.3 L804.8,390.1 L805.8,391.2 L806.8,392.6 L807.9,393.5 L808.9,393.1 L809.9,392.6 L810.9,393.1 L812.0,393.5 L813.0,394.2 L814.0,395.2 L815.0,394.6 L816.1,395.8 L817.1,394.6 L818.0,399.9 L818.9,406.3 L819.8,414.0 L820.8,413.0 L821.8,413.3 L822.9,411.1 L823.9,410.8 L824.9,408.3 L825.9,406.8 L827.0,404.6 L828.0,404.8 L829.0,403.0 L830.0,402.1 L831.0,403.2 L832.0,402.1 L833.0,401.5 L834.0,400.3 L835.0,399.1 L836.0,398.3 L837.0,398.4 L838.0,400.0 L839.0,400.7 L840.0,401.0 L841.0,402.3 L842.0,401.7 L843.0,403.6 L844.0,403.5 L845.0,403.1 L845.9,404.8 L846.9,405.9 L847.9,406.0 L848.9,406.8 L849.9,408.1 L850.9,409.1 L851.9,408.8 L852.9,408.4 L853.9,409.4 L854.9,408.6 L855.9,408.0 L856.9,407.9 L857.8,407.2 L858.8,407.6 L859.8,405.4 L860.8,405.2 L861.8,403.9 L862.8,405.5 L863.8,404.5 L864.8,404.7 L865.7,404.7 L866.7,402.8 L867.7,402.3 L868.7,402.2 L869.7,402.7 L870.7,403.0 L871.7,404.3 L872.7,405.6 L873.7,404.9 L874.7,405.4 L875.7,406.4 L876.7,406.9 L877.7,406.8 L878.8,406.1 L879.8,407.4 L880.8,406.7 L881.8,406.7 L882.9,406.4 L883.9,406.2 L884.9,406.1 L886.0,405.0 L887.0,405.7 L888.0,406.7 L889.0,406.3 L890.1,406.3 L891.1,406.1 L892.1,405.7 L893.1,406.5 L894.2,405.5 L895.2,405.6 L896.2,406.5 L897.2,406.9 L898.2,406.5 L899.2,406.6 L900.2,409.0 L901.2,408.5 L902.2,409.4 L903.2,410.7 L904.2,411.2 L905.2,409.8 L906.2,409.5 L907.2,411.4 L908.2,411.9 L909.2,412.8 L910.2,413.7 L911.2,414.5 L912.2,414.2 L913.2,414.3 L914.2,414.9 L915.1,414.1 L916.1,413.0 L917.1,411.4 L918.0,412.7 L919.0,411.5 L919.9,410.9 L920.9,411.7 L921.9,411.4 L922.8,410.9 L923.8,409.5 L924.8,409.0 L925.8,409.8 L926.8,410.8 L927.9,411.5 L928.9,413.4 L929.9,414.4 L930.9,413.7 L931.9,414.9 L932.9,415.2 L934.0,415.4 L935.0,416.9 L936.0,416.4 L937.0,417.8 L938.1,417.3 L939.1,414.0 L940.2,413.2 L941.2,412.2 L942.3,410.6 L943.3,410.8 L944.3,411.1 L945.3,411.8 L946.3,411.8 L947.4,410.8 L948.4,413.1 L949.4,414.1 L950.4,413.1 L951.4,414.4 L952.4,416.2 L953.4,413.9 L954.4,414.0 L955.5,414.2 L956.5,415.1 L957.5,415.2 L958.5,415.0 L959.5,416.3 L960.5,415.5 L961.5,415.3 L962.6,416.1 L963.6,414.0 L964.6,412.7 L965.6,412.9 L966.7,411.9 L967.7,411.7 L968.7,411.1 L969.7,412.6 L970.8,411.3 L971.8,410.4 L972.8,409.6 L973.8,409.9 L974.8,409.1 L975.8,409.4 L976.8,410.5 L977.9,409.7 L978.9,410.4 L979.9,410.8 L980.9,410.8 L981.9,413.7 L982.9,413.2 L983.9,412.7 L984.9,411.6 L986.0,411.9 L987.0,411.9 L988.0,412.1 L989.0,412.7 L990.0,414.1 L991.0,413.4 L992.0,413.0 L993.0,412.2 L994.0,412.6 L994.9,409.8 L995.9,407.3 L996.9,407.1 L997.9,406.7 L998.9,406.1 L999.9,405.0 L1000.9,405.4 L1001.8,405.7 L1002.8,404.4 L1003.8,403.1 L1004.8,402.8 L1005.8,401.6 L1006.8,402.0 L1007.8,402.9 L1008.9,401.9 L1009.9,405.2 L1010.9,405.3 L1011.9,406.3 L1013.0,406.8 L1014.0,407.5 L1015.0,407.5 L1016.0,408.1 L1017.0,407.9 L1017.9,407.3 L1018.9,408.9 L1019.9,406.5 L1020.9,406.6 L1021.9,405.8 L1022.8,404.1 L1023.8,406.3 L1024.8,403.8 L1025.8,404.5 L1026.7,404.4 L1027.7,404.4 L1028.7,403.4 L1029.7,404.3 L1030.7,403.8 L1031.6,402.5 L1032.6,402.0 L1033.6,402.3 L1034.5,402.7 L1035.5,404.2 L1036.4,405.4 L1037.4,405.8 L1038.3,404.9 L1039.3,405.6 L1040.2,407.9 L1041.2,408.6 L1042.1,410.7 L1043.1,410.8 L1044.2,412.5 L1045.3,414.3 L1046.3,415.2 L1047.4,416.7 L1048.5,418.5 L1049.6,419.8 L1050.5,419.0 L1051.5,417.7 L1052.4,418.7 L1053.4,417.1 L1054.3,416.3 L1055.3,413.1 L1056.2,412.8 L1057.2,412.1 L1058.2,412.2 L1059.2,411.8 L1060.2,411.0 L1061.2,410.9 L1062.2,411.6 L1063.3,411.9 L1064.3,410.0 L1065.3,410.3 L1066.3,408.9 L1067.3,408.9 L1068.3,407.9 L1069.3,408.1 L1070.3,408.7 L1071.3,407.5 L1072.2,407.8 L1073.2,405.9 L1074.2,405.4 L1075.2,407.6 L1076.2,406.3 L1077.2,406.0 L1078.1,403.7 L1079.1,404.1 L1080.1,403.5 L1081.1,404.6 L1082.1,403.7 L1083.0,404.8 L1084.0,403.2 L1085.0,403.0 L1086.1,401.9 L1087.2,402.1 L1088.2,403.9 L1089.3,403.7 L1090.4,403.1 L1091.5,404.0 L1092.5,403.7 L1093.6,402.7 L1094.7,402.2 L1095.7,399.5 L1096.8,400.8 L1097.8,399.7 L1098.8,396.6 L1099.9,397.7 L1101.0,396.0 L1102.0,395.4 L1103.0,393.5 L1104.0,392.8 L1105.0,391.4 L1106.0,391.7 L1107.0,391.0 L1108.0,389.7 L1109.0,389.2 L1110.0,389.7 L1111.0,387.7 L1111.9,387.4 L1112.9,385.3 L1113.9,383.5 L1114.9,383.2 L1115.9,382.7 L1116.9,382.4 L1117.9,382.2 L1118.9,380.9 L1119.9,379.9 L1120.9,379.4 L1121.9,379.4 L1122.8,379.0 L1123.8,379.1 L1124.8,376.8 L1125.7,377.2 L1126.7,376.8 L1127.7,377.7 L1128.7,379.7 L1129.8,378.9 L1130.8,381.0 L1131.8,381.1 L1132.7,379.9 L1133.6,378.1 L1134.5,377.4 L1135.4,375.5 L1136.4,374.1 L1137.5,374.7 L1138.5,374.5 L1139.6,375.0 L1140.6,374.8 L1141.7,373.5 L1142.7,373.5 L1143.7,373.5 L1144.8,373.3 L1145.8,373.4 L1146.9,373.7 L1147.9,373.1 L1149.0,373.1 L1150.0,373.5 L1151.0,373.5 L1151.9,374.3 L1152.9,374.2 L1153.9,374.7 L1154.8,376.0 L1155.8,377.4 L1156.8,377.9 L1157.7,377.2 L1158.7,377.5 L1159.7,377.2 L1160.6,376.4 L1161.6,372.7 L1162.6,374.2 L1163.5,374.6 L1164.5,373.8 L1165.5,374.2 L1166.4,374.8 L1167.4,373.5 L1168.4,373.9 L1169.4,375.4 L1170.3,373.8 L1171.3,374.4 L1172.3,376.2 L1173.3,377.6 L1174.3,377.8 L1175.2,377.6 L1176.2,378.7 L1177.2,377.8 L1178.1,375.6 L1179.1,375.5 L1180.1,376.1 L1181.0,376.1 L1182.0,374.4 L1183.0,375.3 L1183.9,375.0 L1184.9,374.9 L1185.9,374.6 L1187.0,372.9 L1188.0,371.2 L1189.0,370.0 L1190.1,368.4 L1191.1,369.4 L1192.1,368.0 L1193.2,366.7 L1194.2,364.8 L1195.2,364.2 L1196.1,364.3 L1197.1,362.6 L1198.1,364.0 L1199.0,362.6 L1200.0,363.1 L1201.0,363.3 L1201.9,362.3 L1202.9,362.7 L1203.9,362.8 L1204.8,363.3 L1205.8,362.6 L1206.8,362.2 L1207.9,360.9 L1209.0,359.1 L1210.0,358.7 L1211.0,356.7 L1212.1,356.1 L1213.1,355.8 L1214.2,355.5 L1215.2,354.2 L1216.3,352.4 L1217.3,353.1 L1218.2,352.8 L1219.2,351.9 L1220.2,351.2 L1221.1,352.0 L1222.1,351.9 L1223.1,350.4 L1224.2,348.4 L1225.2,347.9 L1226.2,345.4 L1227.3,343.9 L1228.3,342.1 L1229.3,341.1 L1230.4,338.2 L1231.4,336.4 L1232.5,334.7 L1233.5,332.4 L1234.6,330.4 L1235.6,327.6 L1236.7,328.8 L1237.7,329.3 L1238.8,324.6 L1239.8,324.1 L1240.9,320.8 L1241.9,318.9 L1242.8,321.9 L1243.7,325.5 L1244.7,329.6 L1245.6,329.8 L1246.5,333.2 L1247.4,331.4 L1248.4,329.3 L1249.3,330.4 L1250.3,325.3 L1251.2,321.6 L1252.2,324.8 L1253.3,323.1 L1254.3,323.6 L1255.3,332.2 L1256.4,332.0 L1257.4,333.9 L1258.4,335.3 L1259.5,336.5 L1260.5,338.9 L1261.5,336.7 L1262.6,338.0 L1263.6,338.3 L1264.7,338.3 L1265.7,334.7 L1266.7,331.5 L1267.8,331.5 L1268.8,330.4 L1269.8,330.5 L1270.8,328.1 L1271.8,326.9 L1272.8,327.2 L1273.9,327.3 L1274.9,325.8 L1275.9,322.8 L1276.9,322.0 L1277.9,323.1 L1278.8,324.9 L1279.8,324.4 L1280.7,329.0 L1281.7,328.7 L1282.6,329.6 L1283.6,330.0 L1284.5,333.2 L1285.6,331.6 L1286.7,329.7 L1287.8,326.8 L1288.8,324.5 L1289.9,324.7 L1291.0,323.8 L1292.0,323.4 L1292.9,319.9 L1293.9,317.6 L1294.9,317.3 L1295.8,315.8 L1296.8,311.7 L1297.7,312.3 L1298.7,310.0 L1299.7,308.4 L1300.6,305.9 L1301.6,304.4 L1302.6,301.3 L1303.7,298.6 L1304.7,298.3 L1305.7,296.3 L1306.8,294.2 L1307.8,293.3 L1308.8,290.4 L1309.9,288.1 L1310.9,283.9 L1311.9,282.9 L1313.0,283.4 L1314.0,281.0 L1315.0,280.1 L1316.1,280.1 L1317.1,279.1 L1318.1,279.0 L1319.2,277.7 L1320.2,276.0 L1321.1,275.4 L1322.1,272.4 L1323.0,269.3 L1324.0,268.4 L1324.9,267.0 L1325.8,264.6 L1326.7,260.4 L1327.5,259.4 L1328.4,258.5 L1329.5,281.0 L1330.5,279.0 L1331.5,274.3 L1332.5,270.2 L1333.5,262.9 L1334.5,263.0 L1335.5,259.9 L1336.5,255.4 L1337.5,251.8 L1338.6,246.0 L1339.6,245.6 L1340.6,241.7 L1341.7,242.2 L1342.7,239.5 L1343.7,237.3 L1344.8,232.9 L1345.8,230.4 L1346.7,223.4 L1347.5,221.3 L1348.4,215.3 L1349.3,209.2 L1350.2,215.9 L1351.0,221.5 L1351.9,230.0 L1352.8,236.1 L1353.9,251.5 L1355.1,270.7 L1356.0,264.4 L1356.8,258.8 L1357.7,253.1 L1358.6,247.0 L1359.8,258.5 L1360.9,268.2 L1361.8,260.2 L1362.7,256.2 L1363.5,253.6 L1364.4,247.4 L1365.3,242.8 L1366.2,238.7 L1367.0,232.2 L1367.9,228.6 L1368.8,234.1 L1369.7,238.4 L1370.5,245.4 L1371.4,250.4 L1372.3,248.3 L1373.2,243.9 L1374.0,242.6 L1374.9,240.6 L1375.8,247.5 L1376.7,256.3 L1377.5,266.2 L1378.4,275.6 L1379.3,271.6 L1380.2,268.2 L1381.0,262.1 L1381.9,255.4 L1383.0,248.4 L1384.2,240.4 L1385.3,232.3 L1386.2,233.0 L1387.0,229.9 L1387.9,236.8 L1388.8,238.4 L1389.7,231.7 L1390.5,226.1 L1391.4,220.0 L1392.3,213.3 L1393.3,214.1 L1394.3,213.0 L1395.3,212.2 L1396.3,209.5 L1397.3,209.3 L1398.3,209.4 L1399.3,208.5" fill="none" stroke="#F29C2E" stroke-width="6.0" stroke-linejoin="round" stroke-linecap="round"/>
</svg>
<div class="t leg" style="left:75px">Chỉ số Kospi</div>
<div class="t leg" style="left:341px">Chỉ số MSCI khu vực Châu Á - Thái Bình Dương</div>
<div class="yl" style="top:143.962px">150<span>%</span></div>
<div class="yl" style="top:215.212px">100</div>
<div class="yl" style="top:286.462px">50</div>
<div class="yl" style="top:357.712px">0</div>
<div class="yl" style="top:428.962px">-50</div>
<div class="yr" style="left:221.5px">2023</div>
<div class="yr" style="left:559.8px">2024</div>
<div class="yr" style="left:899.0px">2025</div>
<div class="yr" style="left:1237.3px">2026</div>

<div class="t fn" style="top:580.8px">Ghi chú: Dữ liệu được chuẩn hóa với tỷ lệ tăng giá tính từ ngày 22.4.2022</div>
<div class="t fn" style="top:616.5px">Nguồn: Bloomberg</div>
</body></html>
